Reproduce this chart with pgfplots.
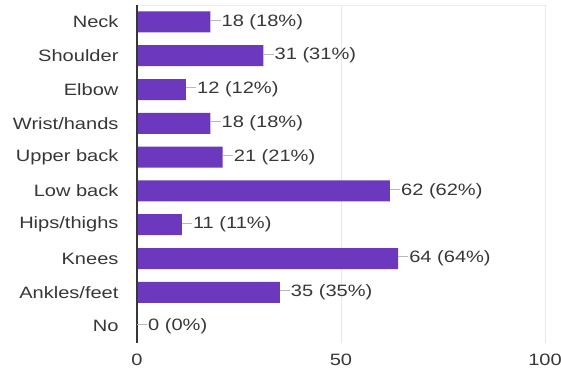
\documentclass[border=0pt]{standalone}
\usepackage{pgfplots}
\pgfplotsset{compat=1.18}
\usepackage{fontspec}
\setmainfont{Liberation Sans}[FakeStretch=1.22]
\definecolor{barc}{RGB}{108,56,190}
\definecolor{txt}{RGB}{55,55,55}
\begin{document}
\begin{tikzpicture}
\begin{axis}[
  name=a,
  scale only axis, width=408bp, height=338bp,
  xbar, bar width=21bp,
  xmin=0, xmax=100, ymin=-0.5, ymax=9.5, y dir=reverse,
  ytick={0,...,9},
  yticklabels={Neck,Shoulder,Elbow,Wrist/hands,Upper back,Low back,Hips/thighs,Knees,Ankles/feet,No},
  xtick={0,50,100},
  axis line style={draw=none},
  major tick length=0pt,
  xmajorgrids, grid style={gray!18, line width=0.8bp},
  tick label style={font=\fontsize{16.5}{19}\selectfont, text=txt},
  yticklabel style={xshift=-15bp},
  xticklabel style={yshift=-7bp},
  /pgf/number format/assume math mode=true,
  point meta=x,
  nodes near coords={{\color{gray!55}\rule[0.33em]{10bp}{0.9bp}}\hspace{1bp}\pgfmathprintnumber{\pgfplotspointmeta} (\pgfmathprintnumber{\pgfplotspointmeta}\%)},
  every node near coord/.append style={anchor=west, inner sep=0pt, font=\fontsize{16.5}{19}\selectfont, text=txt},
  clip=false,
]
\addplot[fill=barc, draw=none] coordinates {
 (18,0) (31,1) (12,2) (18,3) (21,4) (62,5) (11,6) (64,7) (35,8) (0,9)
};
\draw[gray!15, line width=0.8bp] (axis cs:0,-0.5) -- (axis cs:100,-0.5);
\draw[txt, line width=1.6bp] (axis cs:0,-0.5) -- (axis cs:0,9.5);
\end{axis}
\pgfresetboundingbox
\path[use as bounding box] ([shift={(-137bp,-30bp)}]a.south west) rectangle ([shift={(16bp,5bp)}]a.north east);
\end{tikzpicture}
\end{document}
